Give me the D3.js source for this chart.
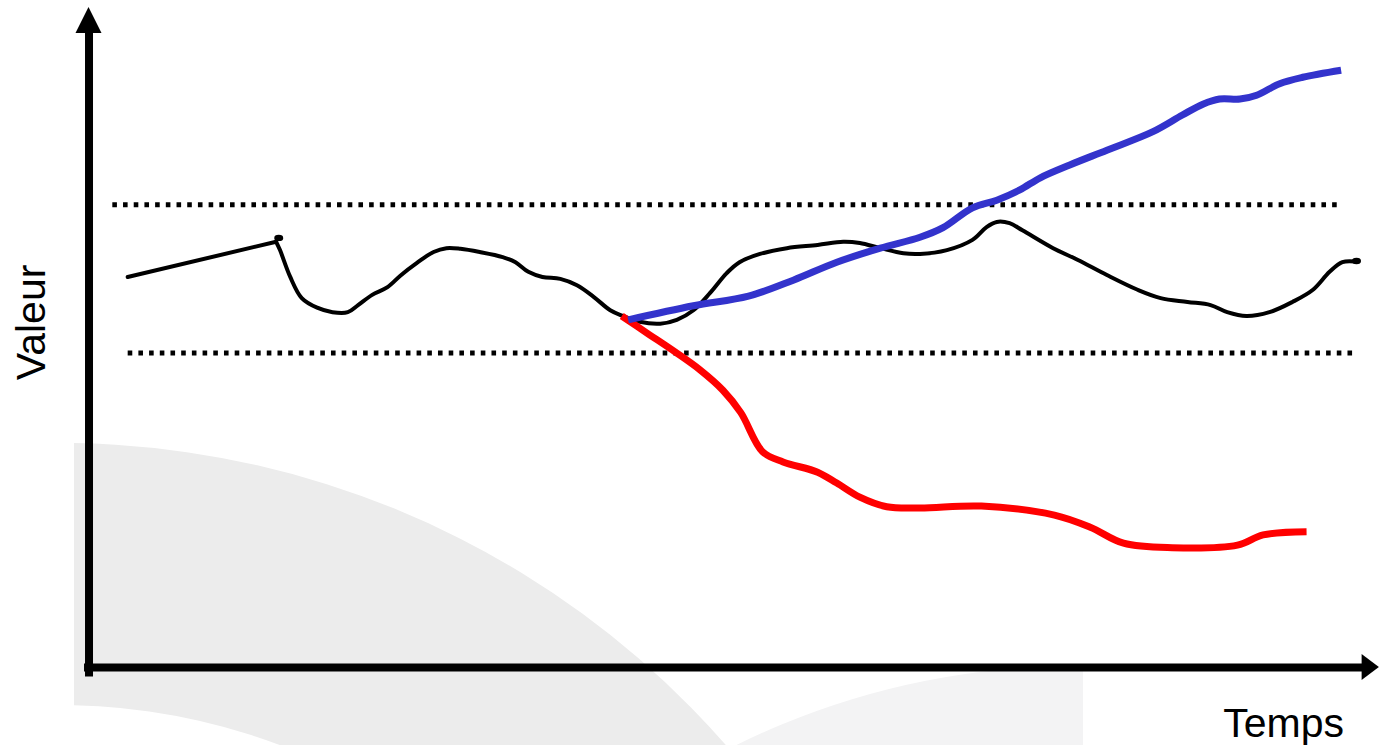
<!DOCTYPE html>
<html>
<head>
<meta charset="utf-8">
<script src="https://cdn.jsdelivr.net/npm/d3@7/dist/d3.min.js"></script>
<style>
  html, body { margin: 0; padding: 0; background: #fff; }
  svg { display: block; }
  text { font-family: "Liberation Sans", Arial, Helvetica, sans-serif; fill: #000; }
</style>
</head>
<body>
<svg id="chart" width="1379" height="745"></svg>
<script>
// ---- Data (time units 0..100, value units 0..100) ----
const blackStart = [[3.1, 61.1], [14.7, 66.6]];
const black = [
  [14.7, 66.6], [15.0, 65.3], [15.8, 61.1], [16.7, 57.8], [17.9, 56.3], [19.1, 55.6],
  [20.3, 55.6], [21.1, 56.7], [22.2, 58.3], [23.4, 59.5], [24.4, 61.3], [25.7, 63.3],
  [27.0, 65.0], [28.0, 65.6], [29.1, 65.5], [30.6, 65.0], [32.4, 64.2], [33.4, 63.4],
  [34.4, 61.9], [35.5, 61.1], [36.9, 60.8], [38.2, 59.8], [39.5, 58.0], [40.8, 55.9],
  [41.8, 55.0], [43.1, 54.1], [44.7, 53.8], [46.0, 54.4], [47.3, 55.9], [48.6, 58.6],
  [49.9, 61.7], [50.9, 63.4], [52.5, 64.7], [54.6, 65.6], [57.0, 66.1], [59.0, 66.6],
  [60.3, 66.4], [61.9, 65.6], [63.7, 64.8], [65.0, 64.7], [67.1, 65.3], [69.1, 66.9],
  [70.2, 68.9], [71.0, 69.7], [72.0, 69.5], [73.0, 68.4], [75.4, 65.6], [77.3, 63.8],
  [79.6, 61.4], [82.0, 59.1], [83.8, 57.8], [85.9, 57.2], [87.7, 56.7], [89.0, 55.6],
  [90.5, 55.0], [92.3, 55.6], [94.1, 57.2], [95.7, 59.1], [97.0, 61.9], [98.0, 63.4],
  [99.0, 63.5]
];
const blackDots = [[14.9, 67.2], [99.1, 63.6]];
const blue = [
  [42.2, 54.4], [47.3, 56.6], [51.6, 58.1], [55.1, 60.6], [58.5, 63.4], [61.9, 65.6],
  [65.0, 67.3], [66.8, 68.8], [69.1, 71.9], [71.0, 73.1], [72.8, 74.7], [74.4, 76.6],
  [76.7, 78.6], [79.6, 80.9], [83.2, 83.8], [85.5, 86.4], [87.1, 88.1], [88.4, 88.9],
  [90.0, 88.9], [91.3, 89.5], [93.1, 91.3], [94.9, 92.3], [97.9, 93.4]
];
const red = [
  [41.7, 55.0], [43.7, 52.3], [46.0, 49.2], [47.8, 46.6], [49.6, 43.4], [51.0, 39.9],
  [52.7, 33.8], [54.3, 32.2], [57.0, 30.6], [58.5, 28.9], [60.3, 26.7],
  [62.4, 25.2], [65.0, 25.0], [69.8, 25.3], [75.5, 23.9], [78.3, 22.0], [80.9, 19.5],
  [84.7, 18.8], [89.8, 19.2], [91.8, 20.8], [95.2, 21.3]
];
// thresholds: [value, from, to]
const thresholds = [[72.4, 1.9, 97.7], [49.2, 3.1, 99.0]];
const axisLabels = { y: "Valeur", x: "Temps" };

// ---- Setup ----
const W = 1379, H = 745;
const svg = d3.select("#chart");
const x = d3.scaleLinear().domain([0, 100]).range([88, 1368]);
const y = d3.scaleLinear().domain([0, 100]).range([668, 28]);

// ---- Background watermark ----
const defs = svg.append("defs");
defs.append("clipPath").attr("id", "clipA")
  .append("rect").attr("x", 74).attr("y", 0).attr("width", W).attr("height", H);
defs.append("clipPath").attr("id", "clipB")
  .append("rect").attr("x", 600).attr("y", 0).attr("width", 1083 - 600).attr("height", H);

svg.append("g").attr("clip-path", "url(#clipA)")
  .append("path")
  .attr("transform", "translate(60,1328)")
  .attr("d", d3.arc().innerRadius(623).outerRadius(885).startAngle(-0.1).endAngle(1.2)())
  .attr("fill", "#ececec");

svg.append("g").attr("clip-path", "url(#clipB)")
  .append("circle")
  .attr("cx", 1075).attr("cy", 1431).attr("r", 765)
  .attr("fill", "#f3f3f4");

// ---- Threshold dotted lines ----
svg.append("g").selectAll("line").data(thresholds).join("line")
  .attr("x1", d => x(d[1])).attr("x2", d => x(d[2]))
  .attr("y1", d => y(d[0])).attr("y2", d => y(d[0]))
  .attr("stroke", "#000").attr("stroke-width", 5)
  .attr("stroke-dasharray", "4.6 6.1");

// ---- Lines ----
const lineLin = d3.line().x(d => x(d[0])).y(d => y(d[1]));
const lineSmooth = d3.line().x(d => x(d[0])).y(d => y(d[1])).curve(d3.curveCatmullRom.alpha(0.5));

svg.append("path").datum(blackStart).attr("d", lineLin)
  .attr("fill", "none").attr("stroke", "#000").attr("stroke-width", 4).attr("stroke-linecap", "round");
svg.append("path").datum(black).attr("d", lineSmooth)
  .attr("fill", "none").attr("stroke", "#000").attr("stroke-width", 4)
  .attr("stroke-linejoin", "round").attr("stroke-linecap", "round");
svg.append("g").selectAll("ellipse").data(blackDots).join("ellipse")
  .attr("cx", d => x(d[0])).attr("cy", d => y(d[1]))
  .attr("rx", 4.5).attr("ry", 3.2).attr("fill", "#000");

svg.append("path").datum(red).attr("d", lineSmooth)
  .attr("fill", "none").attr("stroke", "#ff0000").attr("stroke-width", 7)
  .attr("stroke-linejoin", "round");
svg.append("path").datum(blue).attr("d", lineSmooth)
  .attr("fill", "none").attr("stroke", "#3333cc").attr("stroke-width", 7)
  .attr("stroke-linejoin", "round");

// ---- Axes ----
const yAxisScale = d3.scaleLinear().domain([-1.25, 99.5]).range([y(-1.25), y(99.5)]);
const xAxisScale = d3.scaleLinear().domain([-0.35, 99.6]).range([x(-0.35), x(99.6)]);

const gy = svg.append("g").attr("transform", `translate(${x(0.04)},0)`)
  .call(d3.axisLeft(yAxisScale).tickValues([]).tickSizeOuter(0));
gy.select(".domain").attr("stroke", "#000").attr("stroke-width", 8);

const gx = svg.append("g").attr("transform", `translate(0,${y(0.15)})`)
  .call(d3.axisBottom(xAxisScale).tickValues([]).tickSizeOuter(0));
gx.select(".domain").attr("stroke", "#000").attr("stroke-width", 8);

// arrow heads
const ax0 = x(0.04), ayTop = y(103.3), ayBase = y(99.2);
svg.append("path")
  .attr("d", `M${ax0},${ayTop}L${ax0 + 13},${ayBase}L${ax0 - 13},${ayBase}Z`)
  .attr("fill", "#000");
const hy = y(0.15), hxTip = x(100.85), hxBase = x(99.5);
svg.append("path")
  .attr("d", `M${hxTip},${hy}L${hxBase},${hy - 13}L${hxBase},${hy + 13}Z`)
  .attr("fill", "#000");

// ---- Labels ----
svg.append("text")
  .attr("transform", `translate(45,${y(54)}) rotate(-90)`)
  .attr("text-anchor", "middle")
  .attr("font-size", 41)
  .text(axisLabels.y);
svg.append("text")
  .attr("x", 1344).attr("y", 737)
  .attr("text-anchor", "end")
  .attr("font-size", 41)
  .text(axisLabels.x);
</script>
</body>
</html>
